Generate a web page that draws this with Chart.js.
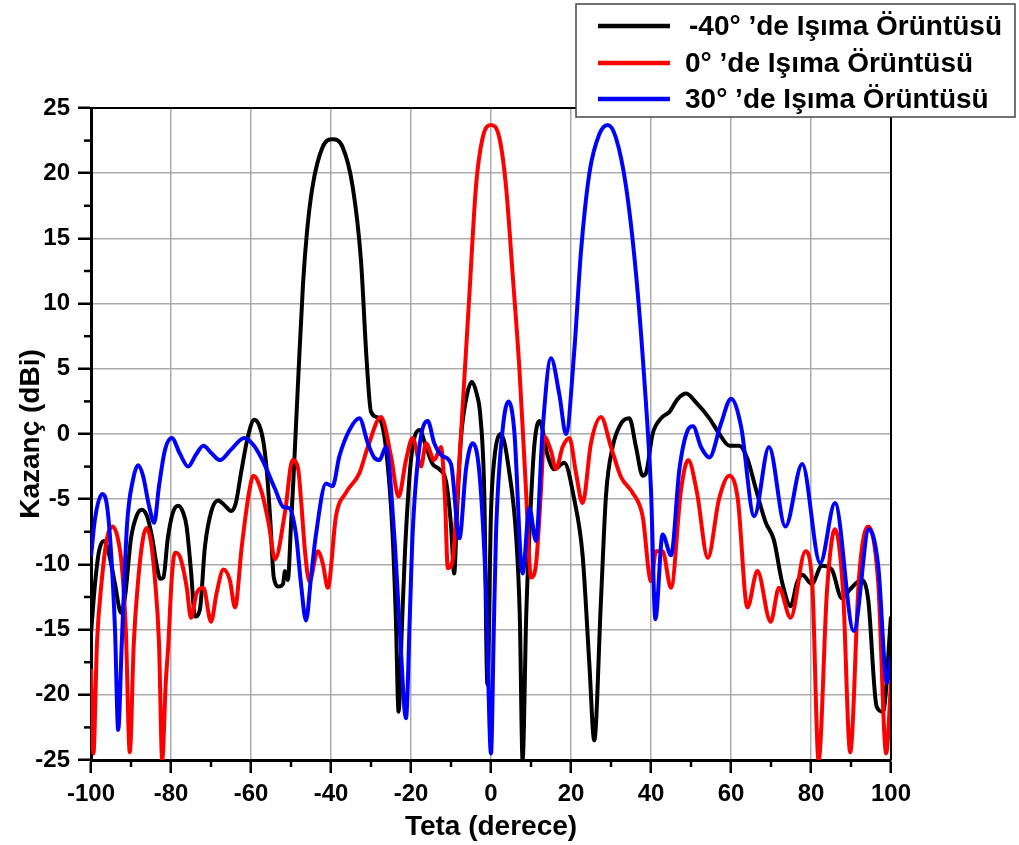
<!DOCTYPE html>
<html>
<head>
<meta charset="utf-8">
<script src="https://cdn.jsdelivr.net/npm/chart.js@4"></script>
<style>
	html, body { margin:0; padding:0; background:#fff; }
	#wrap { position:relative; width:1019px; height:845px; }
</style>
</head>
<body>
<div id="wrap"><canvas id="c" width="1019" height="845"></canvas></div>
<script>
const labels = [ "-40° ’de Işıma Örüntüsü", "0° ’de Işıma Örüntüsü", "30° ’de Işıma Örüntüsü" ]
const warna = [ '#000000', '#ff0000', '#0000ff' ]

const blackTheta = [-100,-99,-98,-96.8,-95.5,-94,-92.5,-91.5,-90,-88.5,-87.3,-86,-84.8,-83.5,-82.7,-81.9,-80.8,-79.5,-78.2,-77,-76.1,-75,-74,-72.8,-71.5,-69.8,-68.2,-66.5,-65,-63.8,-62.5,-60.7,-59.2,-58,-56.9,-56,-55.2,-54.3,-53,-52,-51.5,-50.8,-50,-49.4,-48.2,-47,-46,-44.6,-42.1,-39.6,-37.1,-34.6,-32.5,-31.1,-30,-28,-26.3,-24.6,-23.8,-23.1,-22.3,-21.5,-20,-17.9,-16.2,-14.6,-12.9,-11.2,-10,-9.2,-8.5,-7.5,-6,-4.8,-3.5,-2.7,-1.7,-0.9,0,0.8,2.5,4.6,6.25,7.2,7.9,8.8,9.6,10.8,12.1,14.2,15.8,18.3,20.8,22.9,24.6,25.8,27.5,28.75,30.4,32.5,34.6,36.25,37.9,38.75,40.4,42.5,44.6,46.7,48.8,51.3,54.6,57.1,59.6,62.1,64.1,66.2,68.7,70.7,72.8,74.9,76.5,77.8,80.2,82.7,85.2,87.7,89.8,92.6,94.3,96.4,98,100]
const blackGain = [-15.3,-11.5,-9,-8.2,-9.2,-11.5,-13.7,-12.5,-8,-6.2,-5.8,-6.3,-7.8,-10.2,-11.1,-11,-8,-6,-5.5,-6,-7.1,-10.5,-14,-13.5,-8.6,-5.8,-5.1,-5.5,-5.9,-5.3,-3,-0.1,1.1,0.7,-0.6,-3,-6.5,-11,-11.7,-11.5,-10.5,-11.2,-7,-3.5,4.2,11.5,15.5,19,22,22.6,22,19,13.3,5.7,1.7,1.2,-1,-7.7,-14,-21.3,-15,-9,-2,0.3,-1,-2.3,-2.7,-3.7,-7,-10.7,-6,-0.3,3,4,3,1.5,-4.3,-19.2,-6,-2,0,-3,-7.7,-14,-25,-14,-7.7,-1,1,-1.7,-2.7,-2.2,-5,-9.3,-17.7,-23.5,-12.7,-4.7,-1,0.8,1.2,-1,-3.2,-3,0,1.2,1.7,2.7,3.1,2.4,1.2,0,-0.9,-0.9,-1.9,-4.2,-6.8,-8.1,-11.4,-13.2,-11.4,-10.8,-11.5,-10.1,-10.4,-12.6,-11.9,-11.2,-12.7,-20.9,-21.3,-14]

const redTheta = [-100,-99.4,-98.5,-97.3,-96,-94.6,-93.3,-92.3,-91.3,-90.3,-89.3,-88.2,-87,-86.1,-85,-84,-83,-82.2,-81.3,-80.7,-79.8,-79,-77.8,-76.1,-75,-73.6,-71.9,-70,-68.6,-66.9,-65.3,-64,-62.3,-60.5,-59.4,-57.3,-55.5,-54,-51.5,-49.6,-48.2,-47.5,-46.5,-45.4,-43.3,-42,-40.8,-38.75,-36.25,-32.9,-30.8,-27.5,-25,-23.1,-21.25,-19.6,-17.5,-16.25,-14.2,-12.5,-11.5,-10.8,-9.6,-8.5,-7.5,-5.4,-3.75,-2.1,0,2.1,3.75,5.4,7.1,8.75,10,11.25,12.5,13.3,15,16.25,17.9,19.6,21.25,22.9,25,27.5,30,32.5,35.4,37.9,40,41.25,42.9,45,47.5,49.3,51.5,54.2,57,59.6,61.7,64.1,66.6,69.9,72,74.9,78.6,80.3,81.9,84,86,88,89.8,92,94.3,96.8,98.8,100]
const redGain = [-18,-24.5,-16,-11.2,-8,-7.1,-8,-10.1,-15,-24.4,-16,-11.2,-8,-7.2,-8.3,-11.2,-16,-25,-19,-16.3,-11,-9.1,-9.4,-11.7,-14.1,-12.2,-11.8,-14.4,-12.2,-10.4,-11.2,-13.3,-8.6,-4.5,-3.2,-4.5,-7,-9.6,-6,-2,-2.7,-5,-9,-11.3,-9,-10,-11.8,-6.3,-4.5,-3,-1,1.3,-1.7,-4.8,-2,-0.3,-2.5,-0.7,-2,-1,-5,-10.3,-9.7,-5,0,10.7,19,22.7,23.7,22.7,19,12.3,5,-4.3,-11,-10,-4.3,-0.2,-1.3,-2.7,-1,-0.3,-3,-5.3,-0.7,1.3,-1,-3.3,-4.5,-6.3,-11.3,-9,-9,-11.8,-4.3,-2,-4.5,-9.5,-5,-3.2,-5,-13.3,-10.5,-14.4,-11.8,-14.1,-9,-11.4,-25,-12,-7.3,-12,-24.4,-11,-7.1,-11.4,-24.5,-19]

const blueTheta = [-100,-99,-97.2,-96,-95,-94,-93.2,-92.3,-91,-89.5,-88.2,-87,-85.5,-84.2,-83,-81.5,-79.8,-77.8,-75.7,-73.8,-71.9,-69.8,-67.75,-65,-61.7,-59.5,-57.3,-54,-51.9,-50.4,-48.75,-47.5,-46.25,-45,-43.75,-41.25,-39.6,-37.9,-35.4,-32.9,-30.8,-29.2,-27.9,-26.25,-24.2,-22.8,-21.25,-20.3,-19.6,-17.9,-15.8,-14.2,-12.1,-10,-7.9,-6.25,-4.6,-2.9,-1.25,0,0.7,1.25,2.9,4.4,5.8,7.9,9.6,11.25,12.9,15,17.1,18.75,20.8,22.5,24.6,27.1,29.2,31.25,33.75,36.25,38.3,40,41.1,42.9,45,47.1,49.2,50.5,52.5,54.6,57.5,60,62.5,65.8,69.5,73.6,77.8,82.3,86,90.7,94.5,96.8,99,100]
const blueGain = [-9.4,-6.5,-4.6,-5.5,-9,-15,-22.7,-16,-7,-3.5,-2.4,-3.2,-5.5,-6.8,-4,-1.2,-0.3,-1.5,-2.5,-1.6,-0.9,-1.5,-2,-1.2,-0.3,-0.8,-1.9,-4.2,-5.6,-5.7,-7.7,-11.5,-14.3,-11,-7.7,-3.8,-4,-1.7,0.3,1.2,-0.7,-1.8,-2,-1,-7.7,-15,-21.8,-14,-7.7,-1,1,-0.7,-1.7,-2.3,-8,-2.7,-0.7,-3,-12,-24.5,-15,-7.7,0.3,2.5,0.3,-10.7,-5.7,-8.2,0.3,5.8,3,0,6.3,14,20,23,23.7,22.7,19,12.3,4.3,-4.3,-14.2,-7.7,-9.3,-2.7,0.3,0.6,-1,-1.8,0.8,2.7,0.6,-6.3,-1,-7.1,-2.3,-9.9,-5.3,-15.1,-7.3,-10.1,-19.1,-17]

const xTicks = [-100,-80,-60,-40,-20,0,20,40,60,80,100]
const yTicks = [-25,-20,-15,-10,-5,0,5,10,15,20,25]

const pts = (a,b) => a.map((x,i) => ({x, y:b[i]}))
const fTick = { family:'Liberation Sans, Arial, sans-serif', size:24, weight:'bold' }
const fTitle = { family:'Liberation Sans, Arial, sans-serif', size:28, weight:'bold' }

// minor ticks, frame and the boxed legend in the top right corner
const bingkai = {
	id:'bingkai',
	afterDraw: c => {
		const g = c.ctx, x = c.scales.x, y = c.scales.y, ca = c.chartArea
		g.save()
		g.strokeStyle = '#000'
		g.lineWidth = 2.5
		for (let v = -90; v < 100; v += 20) { g.beginPath(); g.moveTo(x.getPixelForValue(v), ca.bottom); g.lineTo(x.getPixelForValue(v), ca.bottom + 7); g.stroke() }
		for (let v = -22.5; v < 25; v += 5) { g.beginPath(); g.moveTo(ca.left, y.getPixelForValue(v)); g.lineTo(ca.left - 7, y.getPixelForValue(v)); g.stroke() }
		g.lineWidth = 2
		g.beginPath(); g.moveTo(ca.left, ca.top); g.lineTo(ca.right, ca.top); g.lineTo(ca.right, ca.bottom); g.stroke()

		g.fillStyle = '#fff'
		g.fillRect(576, 4, 439, 113)
		g.strokeStyle = '#444'
		g.lineWidth = 1.5
		g.strokeRect(576, 4, 439, 113)
		g.font = 'bold 28px "Liberation Sans", Arial, sans-serif'
		g.textBaseline = 'alphabetic'
		const yy = [35, 72, 108]
		c.data.datasets.forEach((d,i) => {
			g.strokeStyle = d.borderColor
			g.lineWidth = 4.5
			g.beginPath(); g.moveTo(598, yy[i] - 9); g.lineTo(670, yy[i] - 9); g.stroke()
			g.fillStyle = '#000'
			g.fillText(d.label, i == 0 ? 689 : 685, yy[i])
		})
		g.restore()
	}
}

new Chart(document.getElementById('c'), {
	type: 'line',
	data: {
		datasets: [
			{ label:labels[0], data:pts(blackTheta, blackGain), order:3 },
			{ label:labels[1], data:pts(redTheta, redGain), order:2 },
			{ label:labels[2], data:pts(blueTheta, blueGain), order:1 },
		].map((d,i) => ({ ...d, borderColor:warna[i], backgroundColor:warna[i], borderWidth:4, pointRadius:0, fill:false, cubicInterpolationMode:'monotone' }))
	},
	options: {
		responsive: false,
		animation: false,
		layout: { padding: { top:108, right:128, left:0, bottom:0 } },
		plugins: { legend: { display:false }, tooltip: { enabled:false } },
		scales: {
			x: {
				type: 'linear', min:-100, max:100,
				afterBuildTicks: s => { s.ticks = xTicks.map(v => ({ value:v })) },
				afterFit: s => { s.height = 85 },
				ticks: { color:'#000', font:fTick, padding:7, maxRotation:0 },
				grid: { color:'#ababab', lineWidth:1.5, tickLength:13, tickColor:'#000', tickWidth:2.5 },
				border: { color:'#000', width:3 },
				title: { display:true, text:'Teta (derece)', color:'#000', font:fTitle, padding:{ top:0, bottom:1 } }
			},
			y: {
				min:-25, max:25,
				afterBuildTicks: s => { s.ticks = yTicks.map(v => ({ value:v })) },
				afterFit: s => { s.width = 91 },
				ticks: { color:'#000', font:fTick, padding:8 },
				grid: { color:'#ababab', lineWidth:1.5, tickLength:13, tickColor:'#000', tickWidth:2.5 },
				border: { color:'#000', width:3 },
				title: { display:true, text:'Kazanç (dBi)', color:'#000', font:fTitle, padding:{ top:14, bottom:0 } }
			}
		}
	},
	plugins: [bingkai]
})
</script>
</body>
</html>
